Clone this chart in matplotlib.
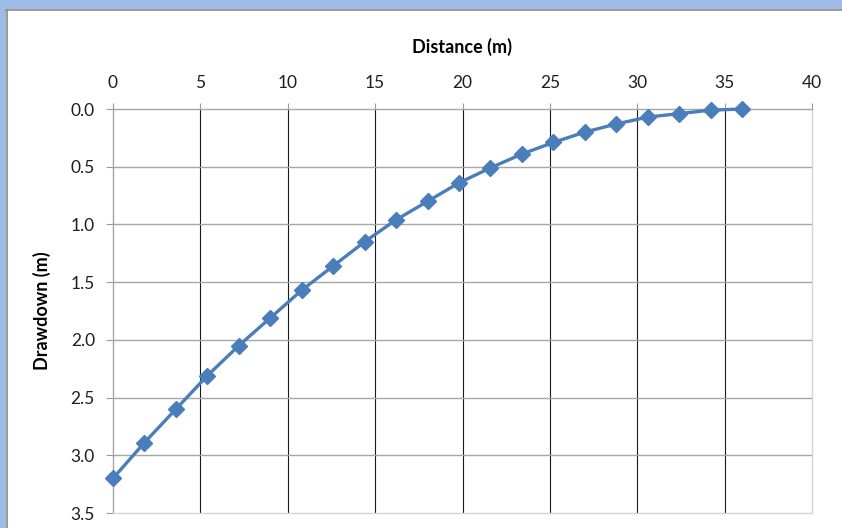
import numpy as np
import matplotlib
matplotlib.use('Agg')
import matplotlib.pyplot as plt
from matplotlib.patches import Rectangle

matplotlib.rcParams['font.family'] = ['Lato', 'DejaVu Sans']

# Data
distance = [0, 1.8, 3.6, 5.4, 7.2, 9.0, 10.8, 12.6, 14.4, 16.2, 18.0,
            19.8, 21.6, 23.4, 25.2, 27.0, 28.8, 30.6, 32.4, 34.2, 36.0]
drawdown = [3.20, 2.89, 2.60, 2.31, 2.05, 1.81, 1.57, 1.36, 1.15, 0.96, 0.80,
            0.64, 0.51, 0.39, 0.29, 0.20, 0.13, 0.07, 0.04, 0.01, 0.00]
x_ticks = [0, 5, 10, 15, 20, 25, 30, 35, 40]
y_ticks = [0.0, 0.5, 1.0, 1.5, 2.0, 2.5, 3.0, 3.5]

W, H = 842, 528
fig = plt.figure(figsize=(W / 100, H / 100), dpi=100)
fig.patch.set_facecolor('white')

# Excel-like window frame (blue band top/left, grey edge line)
blue = '#9dbde6'
fig.add_artist(Rectangle((0, 1 - 9 / H), 1, 9 / H, transform=fig.transFigure,
                         facecolor=blue, edgecolor='none'))
fig.add_artist(Rectangle((0, 0), 6 / W, 1, transform=fig.transFigure,
                         facecolor=blue, edgecolor='none'))
fig.add_artist(plt.Line2D([6 / W, 1], [1 - 9.5 / H, 1 - 9.5 / H], transform=fig.transFigure,
                          color='#8a8a8a', lw=1.2))
fig.add_artist(plt.Line2D([6.5 / W, 6.5 / W], [0, 1 - 9.5 / H], transform=fig.transFigure,
                          color='#8a8a8a', lw=1.2))

ax = fig.add_axes([113 / W, 15 / H, (812 - 113) / W, (513 - 109) / H])

ax.plot(distance, drawdown, color='#4a7ebb', lw=2.4, marker='D', markersize=8,
        markeredgecolor='#4a7ebb', zorder=3, clip_on=False)

ax.set_xlim(0, 40)
ax.set_ylim(3.5, 0)
ax.set_xticks(x_ticks)
ax.set_yticks(y_ticks)
ax.set_yticklabels([f'{v:.1f}' for v in y_ticks])

ax.xaxis.tick_top()
ax.xaxis.set_label_position('top')
ax.tick_params(axis='x', which='both', direction='out', length=4, width=0.8,
               color='#9a9a9a', pad=9, labelsize=12.5, labelcolor='#1e1e1e')
ax.tick_params(axis='y', which='both', direction='out', length=5, width=0.8,
               color='#9a9a9a', pad=8, labelsize=12.5, labelcolor='#1e1e1e')

# grid lines: dark verticals, grey horizontals
for xv in x_ticks[1:-1]:
    ax.axvline(xv, color='#1a1a1a', lw=0.8, zorder=1)
for yv in y_ticks[1:-1]:
    ax.axhline(yv, color='#a6a6a6', lw=1.0, zorder=1)

ax.spines['left'].set_color('#a6a6a6')
ax.spines['top'].set_color('#a6a6a6')
ax.spines['right'].set_color('#d4d4d4')
ax.spines['bottom'].set_color('#d4d4d4')
for s in ax.spines.values():
    s.set_linewidth(1.0)

ax.set_xlabel('Distance (m)', fontsize=13, fontweight='bold', labelpad=16)
ax.set_ylabel('Drawdown (m)', fontsize=13, fontweight='bold', labelpad=14)

fig.savefig('out.png', dpi=100)
